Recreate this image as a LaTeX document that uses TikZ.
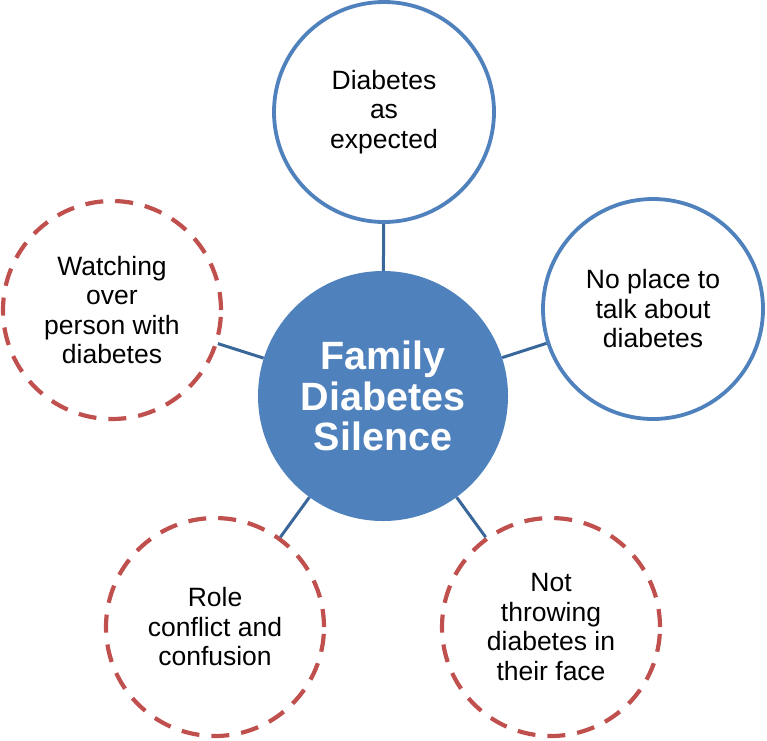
\documentclass[tikz,border=0pt]{standalone}
\usepackage{fontspec}
\setmainfont{Liberation Sans}
\definecolor{accblue}{HTML}{4F81BD}
\definecolor{accred}{HTML}{C0504D}
\definecolor{linkblue}{HTML}{3A679A}
\tikzset{
  solidcirc/.style={circle, draw=accblue, line width=3.8pt, fill=white, minimum size=220pt, inner sep=0pt, align=center, font=\fontsize{26.5}{29.5}\selectfont},
  dashcirc/.style={circle, draw=accred, line width=4.2pt, dash pattern=on 18pt off 12pt, fill=white, minimum size=218pt, inner sep=0pt, align=center, font=\fontsize{26.5}{29.5}\selectfont},
  hubcirc/.style={circle, fill=accblue, draw=none, minimum size=250pt, inner sep=0pt, align=center, text=white, font=\fontsize{39.5}{40.5}\selectfont\bfseries},
  link/.style={draw=linkblue, line width=3pt}
}
\begin{document}
\begin{tikzpicture}[x=1pt, y=-1pt]
\useasboundingbox (0,0) rectangle (767,740);
\node[hubcirc] (hub) at (383,396) {Family\\Diabetes\\Silence};
\node[solidcirc] (top) at (384,112) {Diabetes\\as\\expected};
\node[solidcirc] (right) at (653,309) {No place to\\talk about\\diabetes};
\node[dashcirc] (left) at (112,310) {Watching\\over\\person with\\diabetes};
\node[dashcirc] (bl) at (215,627) {Role\\conflict and\\confusion};
\node[dashcirc] (br) at (551,627) {Not\\throwing\\diabetes in\\their face};
\draw[link] (hub) -- (top);
\draw[link] (hub) -- (right);
\draw[link] (hub) -- (left);
\draw[link] (hub) -- (bl);
\draw[link] (hub) -- (br);
\end{tikzpicture}
\end{document}
